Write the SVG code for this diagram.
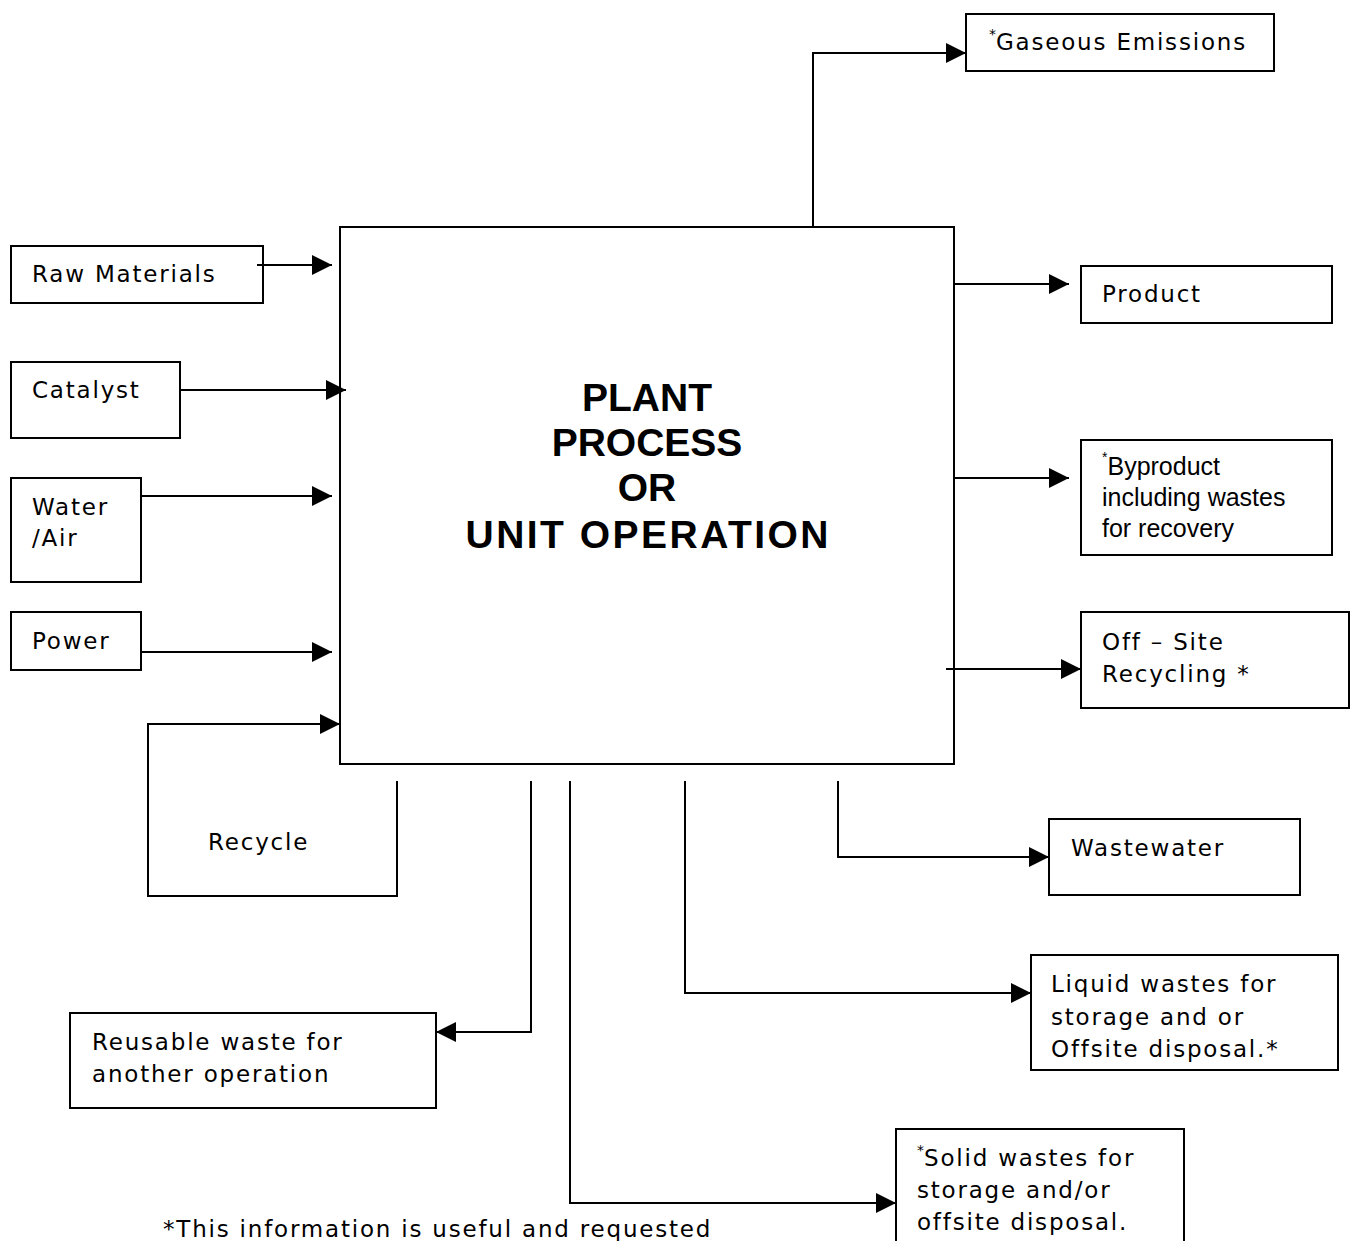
<svg xmlns="http://www.w3.org/2000/svg" width="1350" height="1241" viewBox="0 0 1350 1241">
  <defs>
    <marker id="arrow" markerUnits="userSpaceOnUse" markerWidth="20" markerHeight="20" refX="20" refY="10" orient="auto">
      <path d="M0,0 L20,10 L0,20 Z" fill="#000"/>
    </marker>
    <style>
      .box { fill: none; stroke: #000; stroke-width: 2; }
      .lbl { font-family: "DejaVu Sans", Verdana, sans-serif; font-size: 23px; letter-spacing: 1.8px; fill: #000; }
      .arial { font-family: "Liberation Sans", Arial, sans-serif; font-size: 25px; fill: #000; }
      .sup { font-size: 14px; letter-spacing: 0; }
      .title { font-family: "Liberation Sans", Arial, sans-serif; font-weight: bold; font-size: 39px; fill: #000; text-anchor: middle; }
      .conn { fill: none; stroke: #000; stroke-width: 2; }
    </style>
  </defs>
  <rect width="1350" height="1241" fill="#fff"/>

  <!-- connectors -->
  <g id="connectors">
    <path class="conn" d="M257,265 H332" marker-end="url(#arrow)"/>
    <path class="conn" d="M180,390 H346" marker-end="url(#arrow)"/>
    <path class="conn" d="M141,496 H332" marker-end="url(#arrow)"/>
    <path class="conn" d="M141,652 H332" marker-end="url(#arrow)"/>
    <path class="conn" d="M397,781 V896 H148 V724 H340" marker-end="url(#arrow)"/>
    <path class="conn" d="M813,227 V53 H966" marker-end="url(#arrow)"/>
    <path class="conn" d="M954,284 H1069" marker-end="url(#arrow)"/>
    <path class="conn" d="M954,478 H1069" marker-end="url(#arrow)"/>
    <path class="conn" d="M946,669 H1081" marker-end="url(#arrow)"/>
    <path class="conn" d="M838,781 V857 H1049" marker-end="url(#arrow)"/>
    <path class="conn" d="M685,781 V993 H1031" marker-end="url(#arrow)"/>
    <path class="conn" d="M531,781 V1032 H436" marker-end="url(#arrow)"/>
    <path class="conn" d="M570,781 V1203 H896" marker-end="url(#arrow)"/>
  </g>

  <!-- central process -->
  <g id="process">
    <rect class="box" x="340" y="227" width="614" height="537"/>
    <text class="title" x="647" y="411">PLANT</text>
    <text class="title" x="647" y="456">PROCESS</text>
    <text class="title" x="647" y="501">OR</text>
    <text class="title" x="647" y="548" textLength="363" lengthAdjust="spacing">UNIT OPERATION</text>
  </g>

  <!-- inputs -->
  <g id="raw-materials">
    <rect class="box" x="11" y="246" width="252" height="57"/>
    <text class="lbl" x="32" y="282">Raw Materials</text>
  </g>
  <g id="catalyst">
    <rect class="box" x="11" y="362" width="169" height="76"/>
    <text class="lbl" x="32" y="398">Catalyst</text>
  </g>
  <g id="water-air">
    <rect class="box" x="11" y="478" width="130" height="104"/>
    <text class="lbl" x="32" y="515">Water</text>
    <text class="lbl" x="32" y="546">/Air</text>
  </g>
  <g id="power">
    <rect class="box" x="11" y="612" width="130" height="58"/>
    <text class="lbl" x="32" y="649">Power</text>
  </g>
  <g id="recycle">
    <text class="lbl" x="208" y="850">Recycle</text>
  </g>

  <!-- outputs -->
  <g id="gaseous-emissions">
    <rect class="box" x="966" y="14" width="308" height="57"/>
    <text class="lbl" x="989" y="50"><tspan class="sup" dy="-11">*</tspan><tspan dy="11">Gaseous Emissions</tspan></text>
  </g>
  <g id="product">
    <rect class="box" x="1081" y="266" width="251" height="57"/>
    <text class="lbl" x="1102" y="302">Product</text>
  </g>
  <g id="byproduct">
    <rect class="box" x="1081" y="440" width="251" height="115"/>
    <text class="arial" x="1102" y="475"><tspan class="sup" dy="-13">*</tspan><tspan dy="13">Byproduct</tspan></text>
    <text class="arial" x="1102" y="506">including wastes</text>
    <text class="arial" x="1102" y="537">for recovery</text>
  </g>
  <g id="off-site-recycling">
    <rect class="box" x="1081" y="612" width="268" height="96"/>
    <text class="lbl" x="1102" y="650">Off – Site</text>
    <text class="lbl" x="1102" y="682">Recycling *</text>
  </g>
  <g id="wastewater">
    <rect class="box" x="1049" y="819" width="251" height="76"/>
    <text class="lbl" x="1071" y="856">Wastewater</text>
  </g>
  <g id="liquid-wastes">
    <rect class="box" x="1031" y="955" width="307" height="115"/>
    <text class="lbl" x="1051" y="992">Liquid wastes for</text>
    <text class="lbl" x="1051" y="1025">storage and or</text>
    <text class="lbl" x="1051" y="1057">Offsite disposal.*</text>
  </g>
  <g id="reusable-waste">
    <rect class="box" x="70" y="1013" width="366" height="95"/>
    <text class="lbl" x="92" y="1050">Reusable waste for</text>
    <text class="lbl" x="92" y="1082">another operation</text>
  </g>
  <g id="solid-wastes">
    <rect class="box" x="896" y="1129" width="288" height="130"/>
    <text class="lbl" x="917" y="1166"><tspan class="sup" dy="-11">*</tspan><tspan dy="11">Solid wastes for</tspan></text>
    <text class="lbl" x="917" y="1198">storage and/or</text>
    <text class="lbl" x="917" y="1230">offsite disposal.</text>
  </g>

  <!-- footnote -->
  <text class="lbl" x="163" y="1237">*This information is useful and requested</text>
</svg>
